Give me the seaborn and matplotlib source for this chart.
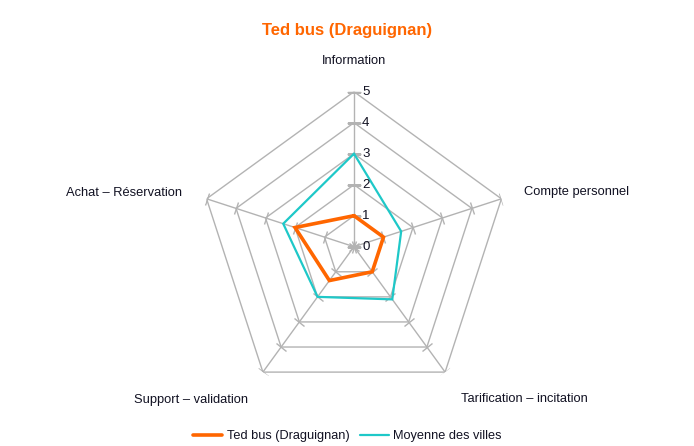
import numpy as np
import pandas as pd
import matplotlib
matplotlib.use("Agg")
import matplotlib.pyplot as plt
import seaborn as sns
from matplotlib.markers import MarkerStyle
from matplotlib.transforms import Affine2D
from matplotlib.lines import Line2D

categories = ["Information", "Compte personnel", "Tarification – incitation",
              "Support – validation", "Achat – Réservation"]
ted_bus = [1.0, 1.0, 1.0, 1.35, 2.0]
moyenne = [3.0, 1.6, 2.1, 2.0, 2.4]
series_names = ["Ted bus (Draguignan)", "Moyenne des villes"]
radial_ticks = [0, 1, 2, 3, 4, 5]
title = "Ted bus (Draguignan)"

ORANGE = "#ff6600"
CYAN = "#1ec8c8"
GRID = "#b3b3b3"
TXT = "#111122"

sns.set_theme(style="white")
plt.rcParams["font.family"] = ["Liberation Sans", "DejaVu Sans"]

W, H = 694, 446
fig = plt.figure(figsize=(W / 100, H / 100), dpi=100)
cx, cy, R = 354, 246.7, 155
ax = fig.add_axes([(cx - R) / W, 1 - (cy + R) / H, 2 * R / W, 2 * R / H],
                  projection="polar")
ax.set_theta_offset(np.pi / 2)
ax.set_theta_direction(-1)

n = len(categories)
angles = np.arange(n) * 2 * np.pi / n
closed = np.append(angles, angles[0] + 2 * np.pi)

# polygon grid
for lvl in radial_ticks[1:]:
    ax.plot(closed, [lvl] * (n + 1), color=GRID, lw=1.0, zorder=1)
for i, a in enumerate(angles):
    ax.plot([a, a], [0, radial_ticks[-1]], color=GRID, lw=1.0, zorder=1)
    m = MarkerStyle("_", transform=Affine2D().rotate_deg(-72 * i))
    ax.plot([a] * len(radial_ticks), radial_ticks, ls="none", marker=m,
            ms=9.4, mew=1.0, color=GRID, zorder=1)

# data
df_ted = pd.DataFrame({"angle": closed, "value": ted_bus + ted_bus[:1]})
df_moy = pd.DataFrame({"angle": closed, "value": moyenne + moyenne[:1]})
sns.lineplot(data=df_moy, x="angle", y="value", sort=False, estimator=None,
             color=CYAN, lw=1.6, ax=ax, zorder=3)
sns.lineplot(data=df_ted, x="angle", y="value", sort=False, estimator=None,
             color=ORANGE, lw=2.6, ax=ax, zorder=4)
for ln in ax.lines[-2:]:
    ln.set_solid_joinstyle("miter")

ax.set_ylim(0, radial_ticks[-1])
ax.set_xticks([])
ax.set_yticks([])
ax.grid(False)
ax.spines["polar"].set_visible(False)
ax.set_facecolor("none")
ax.set_xlabel("")
ax.set_ylabel("")

for t in radial_ticks:
    ax.annotate(str(t), xy=(0, t), xytext=(5.8, 0), textcoords="offset points",
                ha="left", va="center", fontsize=9.5, color=TXT, zorder=5)

label_pos = [(354, 61.5), (576, 192.5), (524.3, 399.5), (191.5, 399.5), (124, 192.5)]
for lab, (x, y) in zip(categories, label_pos):
    fig.text(x / W, 1 - y / H, lab, ha="center", va="center", fontsize=9.3, color=TXT)

fig.text(347 / W, 1 - 30 / H, title, ha="center", va="center", fontsize=12,
         fontweight="bold", color=ORANGE)

handles = [Line2D([], [], color=ORANGE, lw=2.6), Line2D([], [], color=CYAN, lw=1.6)]
fig.legend(handles, series_names, loc="center", bbox_to_anchor=(347.4 / W, 1 - 436 / H),
           ncol=2, frameon=False, fontsize=9.2, handlelength=2.3, handletextpad=0.35,
           columnspacing=0.8, labelcolor=TXT)

fig.savefig("out.png", dpi=100, facecolor="white")
